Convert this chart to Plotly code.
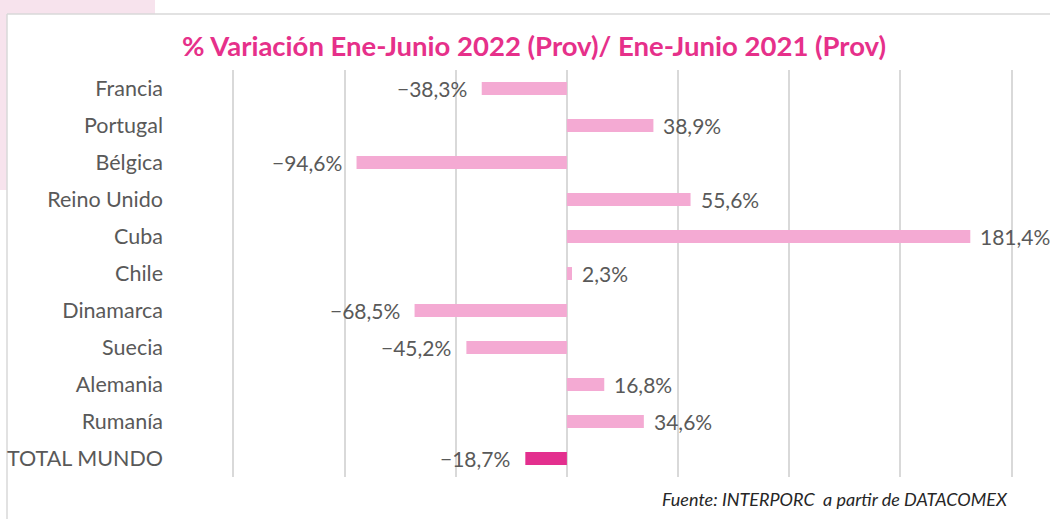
import plotly.graph_objects as go

# Data: year-on-year change, Jan-Jun 2022 vs Jan-Jun 2021 (provisional)
paises = ["Francia", "Portugal", "Bélgica", "Reino Unido", "Cuba", "Chile",
          "Dinamarca", "Suecia", "Alemania", "Rumanía", "TOTAL MUNDO"]
variacion = [-38.3, 38.9, -94.6, 55.6, 181.4, 2.3, -68.5, -45.2, 16.8, 34.6, -18.7]
colores = ["#f4aad3"] * 10 + ["#e32f8e"]

FONT = "Lato"
W, H = 1050, 519
PL, PR, PT, PB = 232, 1013, 70, 477   # plot area in pixels


def px_x(p):
    return (p - PL) / (PR - PL)


def px_y(p):
    return (PB - p) / (PB - PT)


def etiqueta(v):
    s = f"{abs(v):.1f}%".replace(".", ",")
    return ("\u2212" + s) if v < 0 else s


fig = go.Figure(go.Bar(
    y=paises,
    x=variacion,
    orientation="h",
    marker=dict(color=colores, line=dict(width=0)),
    width=0.35,
    hoverinfo="skip",
))

# value labels beside each bar
annotations = []
for p, v in zip(paises, variacion):
    annotations.append(dict(
        x=v, y=p, xref="x", yref="y", text=etiqueta(v), showarrow=False,
        xanchor="left" if v >= 0 else "right",
        xshift=9 if v >= 0 else -14, borderpad=0,
        font=dict(family=FONT, size=21, color="#595959"),
    ))

annotations.append(dict(
    x=px_x(534), y=px_y(46), xref="paper", yref="paper",
    text="<b>% Variación Ene-Junio 2022 (Prov)/ Ene-Junio 2021 (Prov)</b>",
    showarrow=False, xanchor="center", yanchor="middle",
    font=dict(family=FONT, size=27.5, color="#e6308a"),
))
annotations.append(dict(
    x=px_x(1010), y=px_y(499), xref="paper", yref="paper",
    text="<i>Fuente: INTERPORC  a partir de DATACOMEX</i>",
    showarrow=False, xanchor="right", yanchor="middle",
    font=dict(family=FONT, size=18, color="#262626"),
))

shapes = [
    # pale pink corner outside the frame
    dict(type="path", xref="paper", yref="paper",
         path=f"M {px_x(0)},{px_y(0)} L {px_x(155)},{px_y(0)} L {px_x(155)},{px_y(14)} "
              f"L {px_x(7)},{px_y(14)} L {px_x(7)},{px_y(190)} L {px_x(0)},{px_y(190)} Z",
         fillcolor="#f7e3ed", line=dict(width=0), layer="below"),
    # frame
    dict(type="line", xref="paper", yref="paper",
         x0=px_x(7), x1=px_x(W), y0=px_y(14), y1=px_y(14),
         line=dict(color="#d9d9d9", width=1.5), layer="below"),
    dict(type="line", xref="paper", yref="paper",
         x0=px_x(7), x1=px_x(7), y0=px_y(14), y1=px_y(H),
         line=dict(color="#d9d9d9", width=1.5), layer="below"),
]

fig.update_layout(
    width=W, height=H,
    margin=dict(l=PL, r=W - PR, t=PT, b=H - PB, pad=0, autoexpand=False),
    paper_bgcolor="white", plot_bgcolor="white",
    showlegend=False,
    annotations=annotations,
    shapes=shapes,
    bargap=0.65,
    xaxis=dict(range=[-150.6, 200.6], tickvals=[-150, -100, -50, 0, 50, 100, 150, 200],
               showticklabels=False, showgrid=True, gridcolor="#d9d9d9", gridwidth=2,
               zeroline=True, zerolinecolor="#d9d9d9", zerolinewidth=2,
               showline=False, fixedrange=True, automargin=False),
    yaxis=dict(autorange="reversed", showgrid=False, zeroline=False, showline=False,
               ticks="", ticklabelstandoff=68, automargin=False,
               tickfont=dict(family=FONT, size=21.5, color="#595959"),
               fixedrange=True),
)
fig.update_traces(cliponaxis=False)

fig.write_html("out.html")
